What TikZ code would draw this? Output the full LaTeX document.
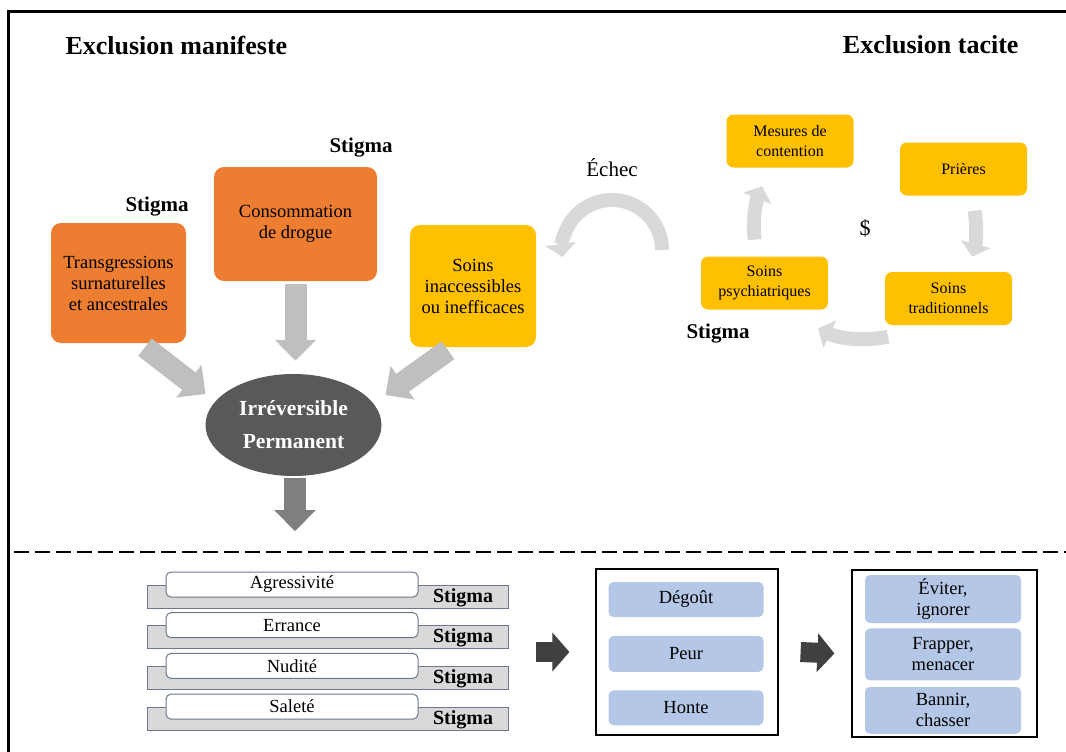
\documentclass[tikz,border=0pt]{standalone}
\usepackage{fontspec}
\setmainfont{Liberation Serif}
\usetikzlibrary{arrows.meta,shapes.geometric,positioning}
\definecolor{orng}{HTML}{ED7D31}
\definecolor{ylw}{HTML}{FFC000}
\definecolor{ellgray}{HTML}{595959}
\definecolor{arrgray}{HTML}{BFBFBF}
\definecolor{downgray}{HTML}{7F7F7F}
\definecolor{ringgray}{HTML}{D9D9D9}
\definecolor{paleblue}{HTML}{B4C7E7}
\definecolor{bargray}{HTML}{D9D9D9}
\definecolor{barline}{HTML}{6A7889}
\definecolor{darkarrow}{HTML}{404040}
\newcommand{\boxfont}{\fontsize{18.5}{21}\selectfont}
\newcommand{\cycfont}{\fontsize{16}{20}\selectfont}
\newcommand{\stigfont}{\fontsize{21}{24}\selectfont\bfseries}

\begin{document}
\begin{tikzpicture}[x=1pt,y=-1pt,
  mainbox/.style={rounded corners=10pt,align=center,font=\boxfont},
  cycbox/.style={rounded corners=7pt,fill=ylw,align=center,font=\cycfont,minimum width=127pt,minimum height=53pt},
  fatarrow/.style={line width=22pt,draw=arrgray,-{Triangle[length=21pt,width=40pt]}},
  ringarrow/.style={line width=14pt,draw=ringgray,-{Triangle[length=13pt,width=30pt]}},
  blockarrow/.style={line width=20pt,draw=darkarrow,-{Triangle[length=17pt,width=38pt]}},
  stig/.style={font=\stigfont},
  bar/.style={draw=barline,fill=bargray,line width=1pt,minimum width=361pt,minimum height=23pt},
  tag/.style={draw=barline,fill=white,line width=1pt,rounded corners=5pt,minimum width=252pt,minimum height=25pt,font=\boxfont},
  bluebox/.style={rounded corners=5pt,fill=paleblue,align=center,font=\boxfont,minimum width=155pt},
  frame/.style={draw,line width=1.2pt}]
\useasboundingbox (0,0) rectangle (1066,752);
\draw[line width=3pt] (8,752) -- (8,12) -- (1066,12);
\draw[line width=2pt,dash pattern=on 15pt off 6pt] (14,552) -- (1066,552);

\node[font=\fontsize{26}{30}\selectfont\bfseries,anchor=west] (manif) at (62,46) {Exclusion manifeste};
\node[font=\fontsize{26}{30}\selectfont\bfseries,anchor=east] (tacit) at (1022,45) {Exclusion tacite};

\node[mainbox,fill=orng,minimum width=135pt,minimum height=120pt] (trans) at (118.5,283) {Transgressions\\surnaturelles\\et ancestrales};
\node[mainbox,fill=orng,minimum width=163pt,minimum height=114pt] (cons) at (295.5,224) {Consommation\\de drogue};
\node[mainbox,fill=ylw,minimum width=126pt,minimum height=122pt] (soins) at (473,286) {Soins\\inaccessibles\\ou inefficaces};
\node[stig] (stigA) at (157,207) {Stigma};
\node[stig] (stigB) at (361,148) {Stigma};

\node[ellipse,fill=ellgray,minimum width=176pt,minimum height=102pt,text=white,align=center,font=\fontsize{21.5}{33}\selectfont\bfseries] (irr) at (293.5,425) {Irréversible\\Permanent};

\draw[fatarrow] ([shift={(26.5,4)}]trans.south) -- ([shift={(-88,-31)}]irr.center);
\draw[fatarrow] ([shift={(0,3)}]cons.south) -- ([shift={(0,-13)}]cons.south |- irr.north);
\draw[fatarrow] ([shift={(-25,3)}]soins.south) -- ([shift={(92,-30)}]irr.center);
\draw[fatarrow,draw=downgray,line width=22pt] ([shift={(1.5,2)}]irr.south) -- ([shift={(1.5,55)}]irr.south);

\node[font=\fontsize{21}{24}\selectfont] (echec) at (612,168) {Échec};
\draw[ringarrow] ([shift={(50,82)}]echec.center) arc[start angle=0,end angle=-188,radius=50];

\node[cycbox] (mes) at (790,141) {Mesures de\\contention};
\node[cycbox] (pri) at (963.5,169) {Prières};
\node[cycbox] (trad) at (948.5,298.5) {Soins\\traditionnels};
\node[cycbox] (psy) at (764.5,283) {Soins\\psychiatriques};
\node[font=\fontsize{22}{24}\selectfont] (dollar) at (865,228) {\$};
\node[stig] (stigC) at (718,334) {Stigma};
\draw[ringarrow] ([shift={(-9:111)}]dollar.center) arc[start angle=-9,end angle=15,radius=111];
\draw[ringarrow] ([shift={(78:111)}]dollar.center) arc[start angle=78,end angle=115,radius=111];
\draw[ringarrow] ([shift={(174:111)}]dollar.center) arc[start angle=174,end angle=202,radius=111];

\foreach \name [count=\i] in {Agressivité,Errance,Nudité,Saleté}{
  \pgfmathsetmacro\yy{596.5+(\i-1)*40.7}
  \node[bar] (bar\i) at (327.5,\yy) {};
  \node[tag] (lbl\i) at (292,\yy-12) {\name};
  \node[stig,font=\fontsize{20}{22}\selectfont\bfseries] (stg\i) at (463,\yy+1) {Stigma};
}

\node[frame,minimum width=182pt,minimum height=166pt] (fr1) at (687,652) {};
\node[bluebox,minimum height=35pt] (deg) at (686,599.5) {Dégoût};
\node[bluebox,minimum height=36pt,below=18.5pt of deg] (peur) {Peur};
\node[bluebox,minimum height=35pt,below=18pt of peur] (honte) {Honte};

\node[frame,minimum width=185pt,minimum height=167pt] (fr2) at (944.5,653.5) {};
\node[bluebox,minimum width=156pt,minimum height=48pt] (evit) at (943,599) {Éviter,\\ignorer};
\node[bluebox,minimum width=156pt,minimum height=52pt,below=5pt of evit] (frap) {Frapper,\\menacer};
\node[bluebox,minimum width=156pt,minimum height=47pt,below=6pt of frap] (bann) {Bannir,\\chasser};

\draw[blockarrow] ([xshift=27pt]bar2.east |- fr1.west) -- ([xshift=-26pt]fr1.west);
\draw[blockarrow] ([xshift=22pt]fr1.east) -- ([xshift=-17pt]fr2.west);
\end{tikzpicture}
\end{document}
